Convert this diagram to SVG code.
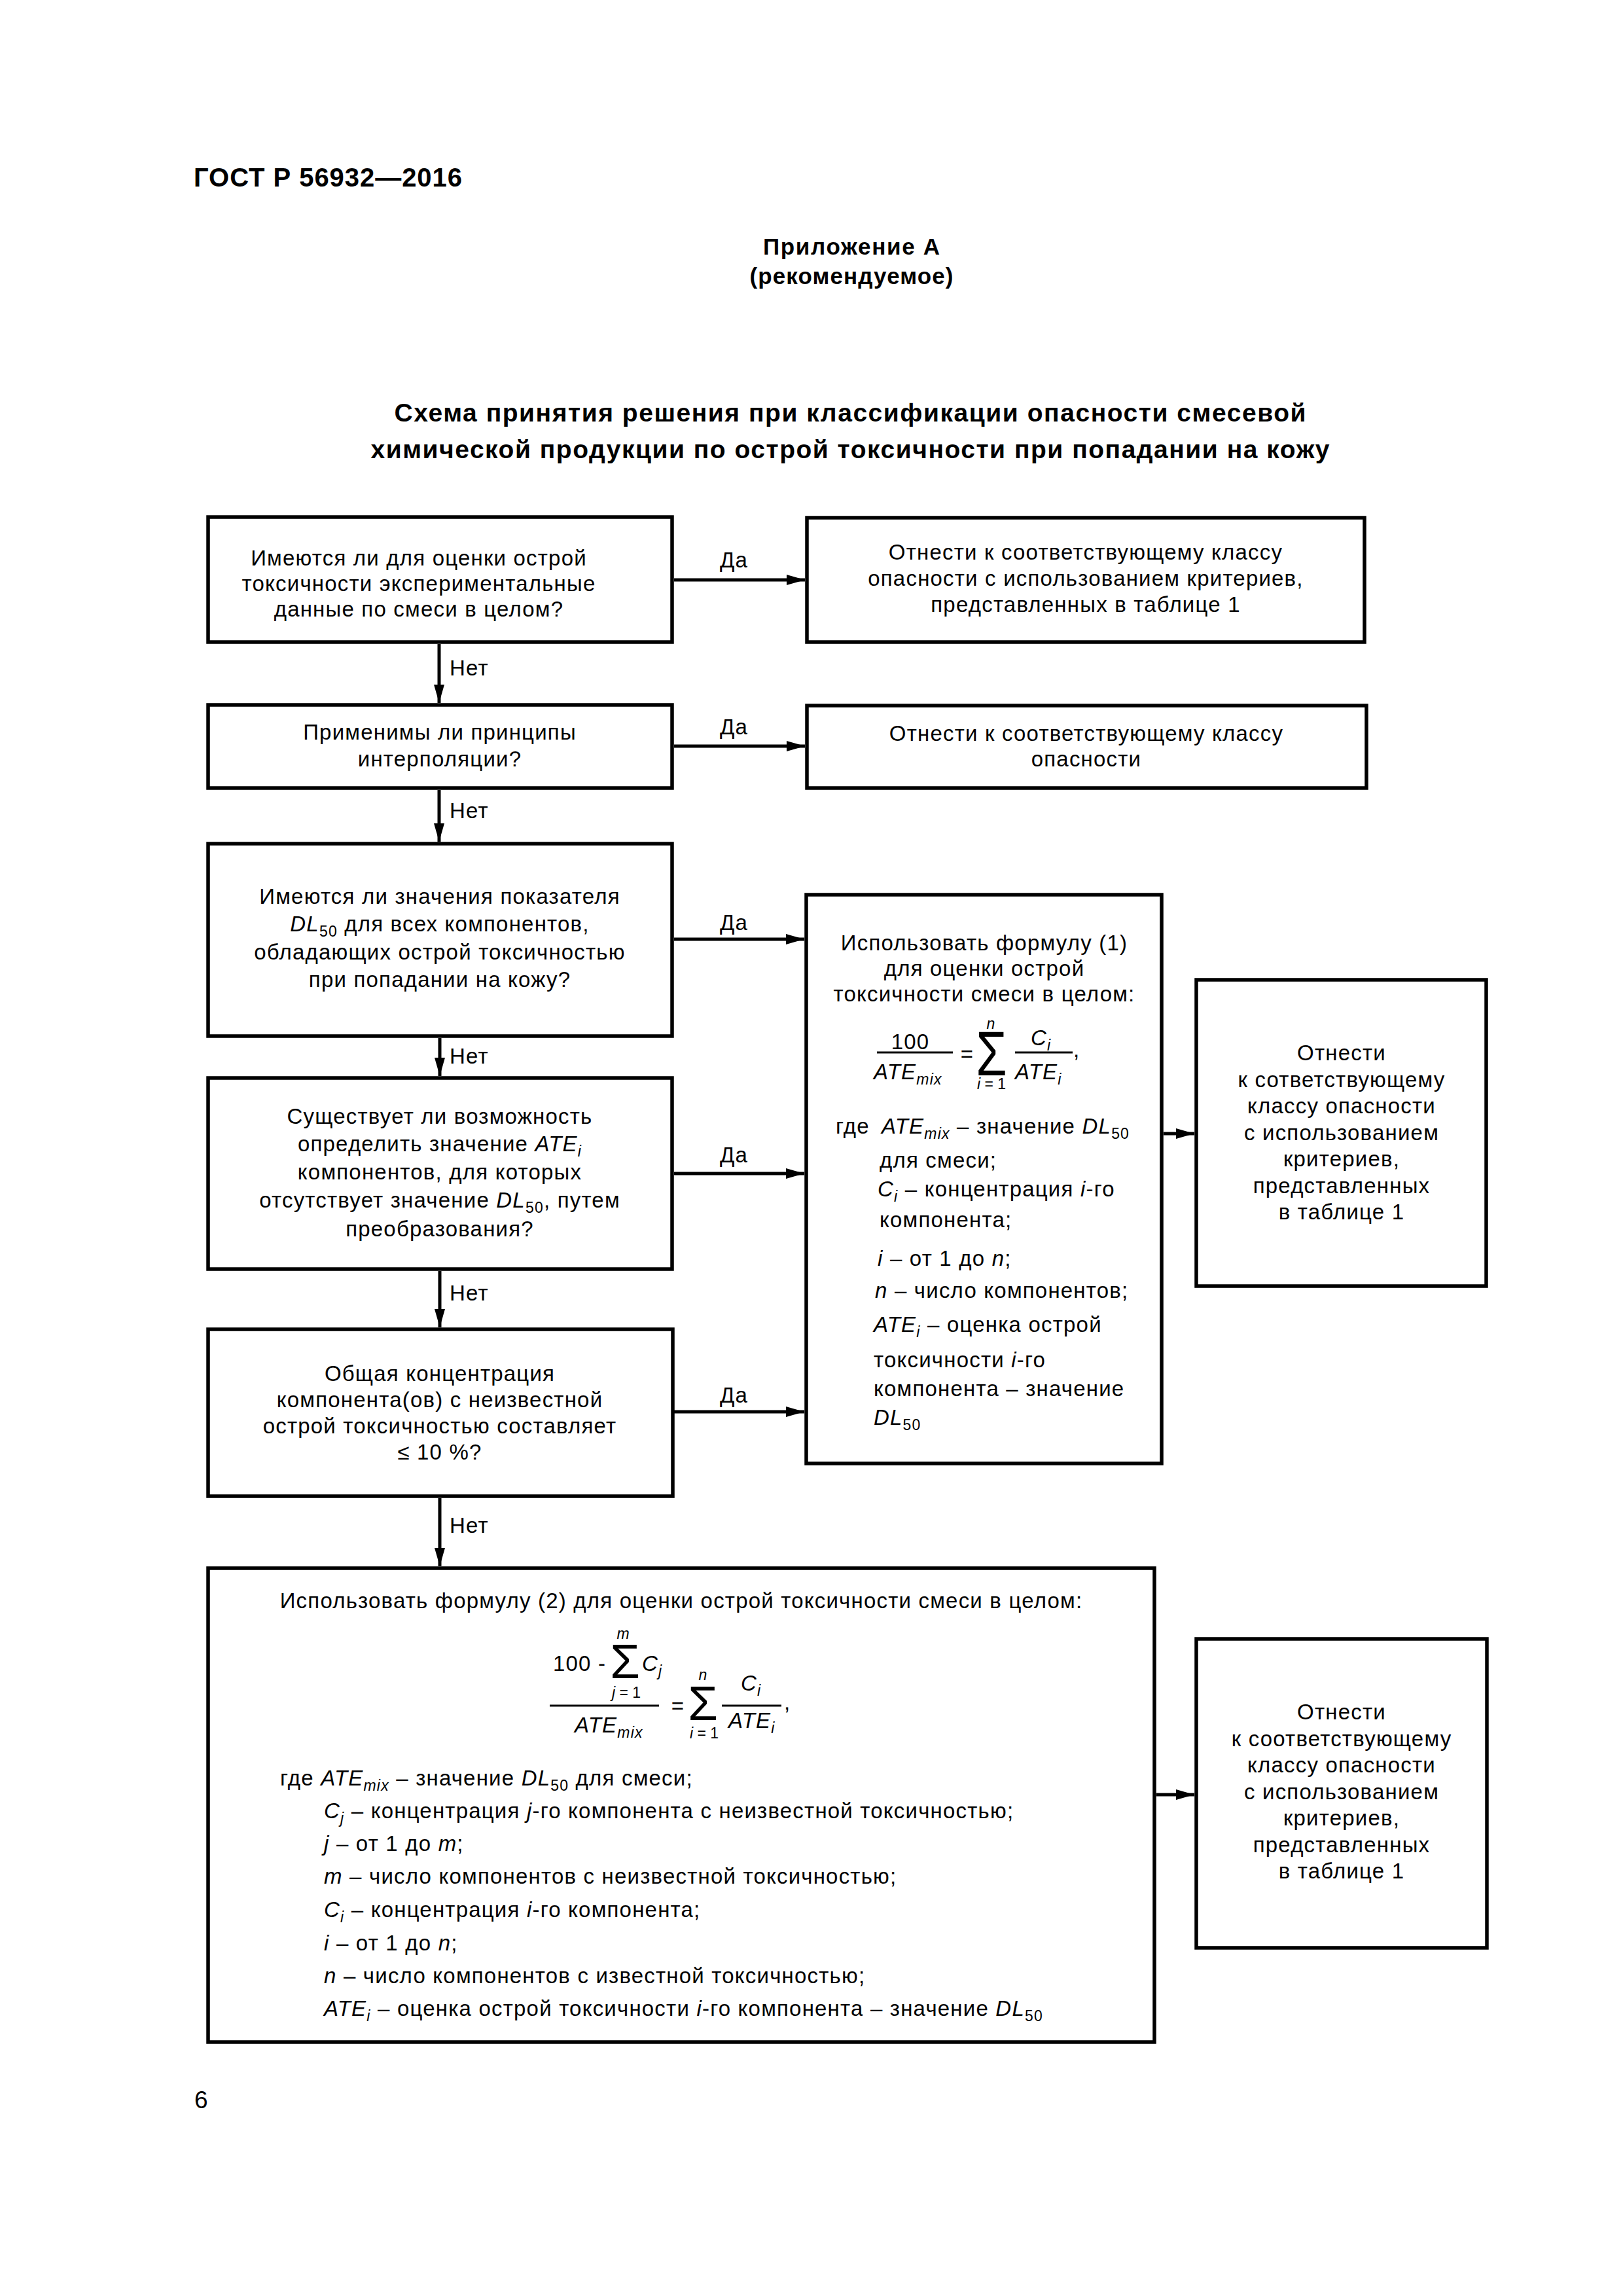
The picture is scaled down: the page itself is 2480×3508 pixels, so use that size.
<svg xmlns="http://www.w3.org/2000/svg" width="2480" height="3508" viewBox="0 0 2480 3508">
<defs>
<style>
text{font-family:"Liberation Sans",Arial,sans-serif;fill:#000}
.t{font-size:33px;letter-spacing:1.2px}
.c{text-anchor:middle}
.b{font-weight:bold}
.i{font-style:italic}
.s{font-size:23px}
.sg{font-size:96px}
.box{fill:#fff;stroke:#000;stroke-width:5.5}
.ln{stroke:#000;stroke-width:5;fill:none}
.bar{stroke:#000;stroke-width:3}
</style>
<marker id="ah" markerUnits="userSpaceOnUse" markerWidth="28" markerHeight="16" refX="28" refY="8" orient="auto"><path d="M0,0L28,8L0,16z" fill="#000"/></marker>
</defs>
<rect x="0" y="0" width="2480" height="3508" fill="#fff"/>

<g id="header">
<text class="b" x="296" y="285" style="font-size:40px" textLength="410" lengthAdjust="spacing">ГОСТ Р 56932—2016</text>
<text class="b c" x="1301" y="389" style="font-size:35px" textLength="270" lengthAdjust="spacing">Приложение А</text>
<text class="b c" x="1301" y="434" style="font-size:35px" textLength="311" lengthAdjust="spacing">(рекомендуемое)</text>
<text class="b c" x="1299" y="644" style="font-size:39px" textLength="1393" lengthAdjust="spacing">Схема принятия решения при классификации опасности смесевой</text>
<text class="b c" x="1299" y="700" style="font-size:39px" textLength="1465" lengthAdjust="spacing">химической продукции по острой токсичности при попадании на кожу</text>
</g>

<g id="n1">
<rect class="box" x="318" y="790" width="709" height="191"/>
<text class="t c" x="640" y="864">Имеются ли для оценки острой</text>
<text class="t c" x="640" y="903">токсичности экспериментальные</text>
<text class="t c" x="640" y="942">данные по смеси в целом?</text>
</g>

<g id="n2">
<rect class="box" x="1233" y="791" width="852" height="190"/>
<text class="t c" x="1659" y="855">Отнести к соответствующему классу</text>
<text class="t c" x="1659" y="895">опасности с использованием критериев,</text>
<text class="t c" x="1659" y="935">представленных в таблице 1</text>
</g>

<g id="n3">
<rect class="box" x="318" y="1077" width="709" height="127"/>
<text class="t c" x="672" y="1130">Применимы ли принципы</text>
<text class="t c" x="672" y="1171">интерполяции?</text>
</g>

<g id="n4">
<rect class="box" x="1233" y="1078" width="855" height="126"/>
<text class="t c" x="1660" y="1132">Отнести к соответствующему классу</text>
<text class="t c" x="1660" y="1171">опасности</text>
</g>

<g id="n5">
<rect class="box" x="318" y="1289" width="709" height="294"/>
<text class="t c" x="672" y="1381">Имеются ли значения показателя</text>
<text class="t c" x="672" y="1423"><tspan class="i">DL</tspan><tspan class="s" dy="8">50</tspan><tspan dy="-8"> для всех компонентов,</tspan></text>
<text class="t c" x="672" y="1466">обладающих острой токсичностью</text>
<text class="t c" x="672" y="1508">при попадании на кожу?</text>
</g>

<g id="n6">
<rect class="box" x="318" y="1647" width="709" height="292"/>
<text class="t c" x="672" y="1717">Существует ли возможность</text>
<text class="t c" x="672" y="1759">определить значение <tspan class="i">ATE</tspan><tspan class="s i" dy="8">i</tspan></text>
<text class="t c" x="672" y="1802">компонентов, для которых</text>
<text class="t c" x="672" y="1845">отсутствует значение <tspan class="i">DL</tspan><tspan class="s" dy="8">50</tspan><tspan dy="-8">, путем</tspan></text>
<text class="t c" x="672" y="1889">преобразования?</text>
</g>

<g id="n7">
<rect class="box" x="318" y="2031" width="710" height="255"/>
<text class="t c" x="672" y="2110">Общая концентрация</text>
<text class="t c" x="672" y="2150">компонента(ов) с неизвестной</text>
<text class="t c" x="672" y="2190">острой токсичностью составляет</text>
<text class="t c" x="672" y="2230">≤ 10 %?</text>
</g>

<g id="n8">
<rect class="box" x="1232" y="1367" width="543" height="869"/>
<text class="t c" x="1504" y="1452">Использовать формулу (1)</text>
<text class="t c" x="1504" y="1491">для оценки острой</text>
<text class="t c" x="1504" y="1530">токсичности смеси в целом:</text>
<text class="t c" x="1391" y="1603">100</text>
<line class="bar" x1="1340" y1="1608" x2="1456" y2="1608"/>
<text class="t" x="1335" y="1649"><tspan class="i">ATE</tspan><tspan class="s i" dy="8">mix</tspan></text>
<text class="t c" x="1478" y="1622">=</text>
<text class="c sg" transform="translate(1515,1643) scale(0.8,1)">Σ</text>
<text class="s i c" x="1514" y="1572">n</text>
<text class="s c" x="1515" y="1664"><tspan class="i">i</tspan> = 1</text>
<text class="t" x="1575" y="1597"><tspan class="i">C</tspan><tspan class="s i" dy="8">i</tspan></text>
<line class="bar" x1="1551" y1="1608" x2="1639" y2="1608"/>
<text class="t" x="1551" y="1649"><tspan class="i">ATE</tspan><tspan class="s i" dy="8">i</tspan></text>
<text class="t" x="1640" y="1615">,</text>
<text class="t" x="1277" y="1732">где</text>
<text class="t" x="1347" y="1732"><tspan class="i">ATE</tspan><tspan class="s i" dy="8">mix</tspan><tspan dy="-8"> – значение </tspan><tspan class="i">DL</tspan><tspan class="s" dy="8">50</tspan></text>
<text class="t" x="1344" y="1784">для смеси;</text>
<text class="t" x="1341" y="1828"><tspan class="i">C</tspan><tspan class="s i" dy="8">i</tspan><tspan dy="-8"> – концентрация </tspan><tspan class="i">i</tspan>-го</text>
<text class="t" x="1344" y="1875">компонента;</text>
<text class="t" x="1341" y="1934"><tspan class="i">i</tspan> – от 1 до <tspan class="i">n</tspan>;</text>
<text class="t" x="1337" y="1983"><tspan class="i">n</tspan> – число компонентов;</text>
<text class="t" x="1335" y="2035"><tspan class="i">ATE</tspan><tspan class="s i" dy="8">i</tspan><tspan dy="-8"> – оценка острой</tspan></text>
<text class="t" x="1335" y="2089">токсичности <tspan class="i">i</tspan>-го</text>
<text class="t" x="1335" y="2133">компонента – значение</text>
<text class="t" x="1335" y="2177"><tspan class="i">DL</tspan><tspan class="s" dy="8">50</tspan></text>
</g>

<g id="n9">
<rect class="box" x="1828" y="1497" width="443" height="468"/>
<text class="t c" x="2050" y="1620">Отнести</text>
<text class="t c" x="2050" y="1661">к сответствующему</text>
<text class="t c" x="2050" y="1701">классу опасности</text>
<text class="t c" x="2050" y="1742">с использованием</text>
<text class="t c" x="2050" y="1782">критериев,</text>
<text class="t c" x="2050" y="1823">представленных</text>
<text class="t c" x="2050" y="1863">в таблице 1</text>
</g>

<g id="n10">
<rect class="box" x="318" y="2396" width="1446" height="724"/>
<text class="t c" x="1041" y="2457">Использовать формулу (2) для оценки острой токсичности смеси в целом:</text>
<text class="t" x="845" y="2553">100 -</text>
<text class="c" style="font-size:74px" x="955" y="2564">Σ</text>
<text class="s i c" x="952" y="2504">m</text>
<text class="t" x="981" y="2553"><tspan class="i">C</tspan><tspan class="s i" dy="8">j</tspan></text>
<text class="s c" x="957" y="2594"><tspan class="i">j</tspan> = 1</text>
<line class="bar" x1="840" y1="2606" x2="1007" y2="2606"/>
<text class="t" x="878" y="2647"><tspan class="i">ATE</tspan><tspan class="s i" dy="8">mix</tspan></text>
<text class="t c" x="1036" y="2618">=</text>
<text class="c" style="font-size:74px" x="1074" y="2628">Σ</text>
<text class="s i c" x="1074" y="2567">n</text>
<text class="s c" x="1076" y="2656"><tspan class="i">i</tspan> = 1</text>
<text class="t" x="1132" y="2583"><tspan class="i">C</tspan><tspan class="s i" dy="8">i</tspan></text>
<line class="bar" x1="1103" y1="2606" x2="1194" y2="2606"/>
<text class="t" x="1113" y="2640"><tspan class="i">ATE</tspan><tspan class="s i" dy="8">i</tspan></text>
<text class="t" x="1198" y="2612">,</text>
<text class="t" x="428" y="2728">где <tspan class="i">ATE</tspan><tspan class="s i" dy="8">mix</tspan><tspan dy="-8"> – значение </tspan><tspan class="i">DL</tspan><tspan class="s" dy="8">50</tspan><tspan dy="-8"> для смеси;</tspan></text>
<text class="t" x="495" y="2778"><tspan class="i">C</tspan><tspan class="s i" dy="8">j</tspan><tspan dy="-8"> – концентрация </tspan><tspan class="i">j</tspan>-го компонента с неизвестной токсичностью;</text>
<text class="t" x="495" y="2828"><tspan class="i">j</tspan> – от 1 до <tspan class="i">m</tspan>;</text>
<text class="t" x="495" y="2878"><tspan class="i">m</tspan> – число компонентов с неизвестной токсичностью;</text>
<text class="t" x="495" y="2929"><tspan class="i">C</tspan><tspan class="s i" dy="8">i</tspan><tspan dy="-8"> – концентрация </tspan><tspan class="i">i</tspan>-го компонента;</text>
<text class="t" x="495" y="2980"><tspan class="i">i</tspan> – от 1 до <tspan class="i">n</tspan>;</text>
<text class="t" x="495" y="3030"><tspan class="i">n</tspan> – число компонентов с известной токсичностью;</text>
<text class="t" x="495" y="3080"><tspan class="i">ATE</tspan><tspan class="s i" dy="8">i</tspan><tspan dy="-8"> – оценка острой токсичности </tspan><tspan class="i">i</tspan>-го компонента – значение <tspan class="i">DL</tspan><tspan class="s" dy="8">50</tspan></text>
</g>

<g id="n11">
<rect class="box" x="1828" y="2504" width="444" height="472"/>
<text class="t c" x="2050" y="2627">Отнести</text>
<text class="t c" x="2050" y="2668">к соответствующему</text>
<text class="t c" x="2050" y="2708">классу опасности</text>
<text class="t c" x="2050" y="2749">с использованием</text>
<text class="t c" x="2050" y="2789">критериев,</text>
<text class="t c" x="2050" y="2830">представленных</text>
<text class="t c" x="2050" y="2870">в таблице 1</text>
</g>

<g id="connectors">
<line class="ln" x1="1030" y1="886" x2="1230" y2="886" marker-end="url(#ah)"/>
<line class="ln" x1="671" y1="984" x2="671" y2="1074" marker-end="url(#ah)"/>
<line class="ln" x1="1030" y1="1140" x2="1230" y2="1140" marker-end="url(#ah)"/>
<line class="ln" x1="671" y1="1207" x2="671" y2="1286" marker-end="url(#ah)"/>
<line class="ln" x1="1030" y1="1435" x2="1229" y2="1435" marker-end="url(#ah)"/>
<line class="ln" x1="672" y1="1586" x2="672" y2="1644" marker-end="url(#ah)"/>
<line class="ln" x1="1030" y1="1793" x2="1229" y2="1793" marker-end="url(#ah)"/>
<line class="ln" x1="672" y1="1942" x2="672" y2="2028" marker-end="url(#ah)"/>
<line class="ln" x1="1030" y1="2157" x2="1229" y2="2157" marker-end="url(#ah)"/>
<line class="ln" x1="672" y1="2289" x2="672" y2="2393" marker-end="url(#ah)"/>
<line class="ln" x1="1778" y1="1732" x2="1825" y2="1732" marker-end="url(#ah)"/>
<line class="ln" x1="1767" y1="2742" x2="1825" y2="2742" marker-end="url(#ah)"/>
<text class="t" x="1100" y="867">Да</text>
<text class="t" x="1100" y="1122">Да</text>
<text class="t" x="1100" y="1421">Да</text>
<text class="t" x="1100" y="1776">Да</text>
<text class="t" x="1100" y="2143">Да</text>
<text class="t" x="687" y="1032">Нет</text>
<text class="t" x="687" y="1250">Нет</text>
<text class="t" x="687" y="1625">Нет</text>
<text class="t" x="687" y="1987">Нет</text>
<text class="t" x="687" y="2342">Нет</text>
</g>

<text x="297" y="3221" style="font-size:37px">6</text>
</svg>
